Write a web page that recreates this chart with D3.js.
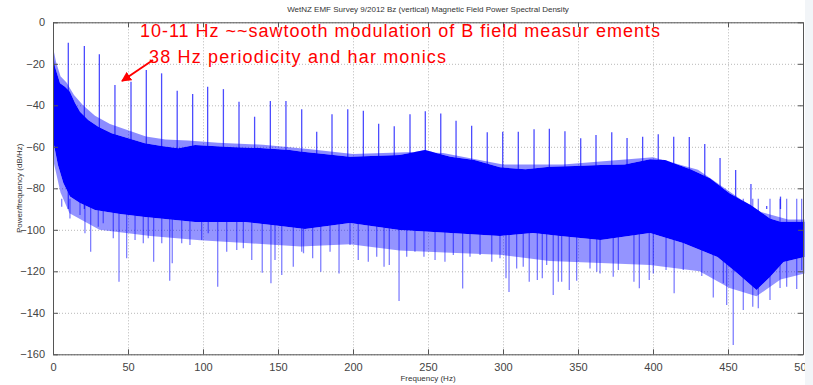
<!DOCTYPE html>
<html>
<head>
<meta charset="utf-8">
<script src="https://cdn.jsdelivr.net/npm/d3@7"></script>
<style>
  body { margin: 0; background: #fff; }
  svg { display: block; font-family: "Liberation Sans", Arial, sans-serif; }
</style>
</head>
<body>
<div id="psd"></div>
<script>
// tick values
const xTicks = [0, 50, 100, 150, 200, 250, 300, 350, 400, 450, 500];
const yTicks = [0, -20, -40, -60, -80, -100, -120, -140, -160];

// top edge of the dense noise band (Hz, dB/Hz)
const upperFreq = [0, 1.3, 4.7, 8, 11.3, 14.7, 18, 23.5, 30.2, 39.1, 50.2, 61.3, 72.5, 83.5, 94.7, 118, 138, 158, 165, 198, 231, 248, 265, 281, 298, 315, 331, 348, 365, 381, 398, 408, 425, 438, 451, 465, 478, 485, 501];
const upperDb   = [-13, -21.4, -29.4, -31, -33.5, -38.9, -43.1, -47.1, -50.3, -53.5, -55.9, -58.3, -59.6, -60.7, -59.1, -60.1, -60.6, -61.5, -62.3, -64.8, -64, -61.5, -64.8, -66.4, -69.9, -70.8, -69.6, -69.3, -68.8, -68.5, -66, -66.4, -70.8, -75.2, -82.4, -88, -94.5, -96.1, -96.1];

// light fuzz reaching above the dense band
const fuzzFreq = [0, 2, 5, 9, 14, 20, 28, 38, 50, 62, 75, 90, 110, 140, 170, 200, 240, 260, 300, 340, 400, 430, 450, 470, 490, 501];
const fuzzDb   = [-12, -19, -26, -29, -35, -40, -45, -49, -52, -55, -56.5, -57, -58, -59, -61, -63.5, -62.5, -63, -68.5, -68.5, -65, -71, -81, -91, -95, -95];

// bottom edge of the dense noise band
const lowerFreq = [0, 3.3, 6.9, 11.3, 18, 28, 44.7, 61.3, 94.7, 128, 150, 168, 198, 231, 265, 298, 320, 338, 365, 398, 420, 443, 456, 469, 478, 487, 501];
const lowerDb   = [-56.7, -68.8, -77.4, -84, -87.1, -90.5, -92.4, -93.8, -96.2, -96.2, -98.1, -99.6, -96.7, -100.1, -101.5, -103, -101.5, -103, -104.9, -101.5, -106.4, -113.1, -120.8, -129, -122.7, -115.5, -113.1];

// how far the lighter strands below the band usually reach
const fringeFreq = [0, 5, 11, 31, 65, 98, 131, 165, 198, 231, 265, 298, 331, 365, 398, 431, 451, 469, 485, 501];
const fringeDb   = [-66, -82, -92, -100, -103, -105, -106.5, -108, -107, -110, -111, -112, -115, -116, -117, -120, -128, -132, -124, -121];

// harmonic peaks (~10.35 Hz spacing)
const peakFreq = [10.2, 20.9, 30.9, 41.3, 52, 62.2, 72.4, 82.8, 93.1, 103.1, 113.6, 124, 134.4, 144.9, 155.3, 165.8, 175.8, 186, 196.5, 206.9, 217.1, 227.5, 238, 248.2, 258.5, 268.7, 279.1, 289.5, 299.8, 310.2, 320.7, 330.9, 341.3, 351.8, 362, 372.5, 382.7, 393.1, 403.5, 413.8, 424.2, 434.5, 444.7, 455.1, 465.3, 475.8, 485];
const peakDb   = [-9.8, -11.4, -15.4, -30.2, -28.6, -23, -24.6, -33, -34.6, -31, -32.2, -38.3, -45.5, -37.9, -37.9, -41.9, -52.7, -44.3, -41.9, -42.6, -48.9, -50.1, -44.3, -42.9, -43.9, -47.4, -49.8, -53, -52.7, -52.7, -51.6, -51.3, -52.5, -55.9, -54.3, -53, -55.8, -55.1, -54, -55.1, -55.3, -58.6, -65.4, -71.2, -77.9, -88.5, -84];

// deep downward excursions
const dipFreq = [5.8, 11.3, 18, 21.3, 25.1, 30.2, 33.5, 40.2, 44, 49.1, 54.7, 60.2, 63.5, 67.1, 72.5, 77.8, 79.5, 85.8, 91.3, 99.1, 103.5, 109.8, 115.8, 122.5, 126.9, 132.5, 139.5, 145.3, 148, 152.5, 160.2, 165.8, 167, 173.1, 178.5, 184.7, 190.7, 198, 203.5, 210.2, 215.8, 220.7, 224.2, 230.7, 235.8, 241.3, 247.3, 254.7, 261.3, 266.9, 273.1, 278, 284.7, 292.5, 298, 302, 304, 309.1, 313.5, 317.5, 322.9, 326.2, 329.1, 333.5, 336.9, 339.1, 344.2, 349.1, 358, 362.5, 364.7, 373.5, 376.9, 387.3, 390.9, 397.5, 400.2, 408.7, 414.1, 420.2, 432.5, 440.2, 446.9, 449.1, 453.5, 460.2, 466.5, 470.2, 478, 484.7, 489.1, 495.8, 499.1];
const dipDb   = [-88.9, -94.5, -92.9, -101.7, -110.6, -98.5, -96.9, -104.1, -125, -113.7, -104.9, -106.5, -104.1, -115.4, -106.5, -124.5, -116.1, -106.5, -107.3, -104.9, -101.7, -127.4, -110.6, -109.7, -108.9, -114.6, -120.7, -125.8, -114.6, -121.8, -117.8, -110.6, -111.3, -113.7, -120.2, -110.6, -121, -107.3, -114.6, -115.4, -113, -117.8, -117, -134.3, -113, -110.6, -113, -114.6, -115.4, -112.1, -128.3, -113, -112.1, -115.4, -113.7, -123.4, -130, -118.6, -117.8, -125, -124.2, -123.4, -117, -131.4, -125, -125, -129, -124.6, -118.6, -120.2, -121, -122.6, -119.4, -125, -128.2, -124.2, -121, -119.4, -130.6, -119.4, -122.3, -132.6, -125.8, -136.2, -155.5, -138.7, -137.1, -137.8, -133.8, -128, -127.4, -128.5, -119.4];

const W = 813, H = 385;
const svg = d3.select("#psd").append("svg").attr("width", W).attr("height", H);

const x = d3.scaleLinear().domain([0, 500]).range([53, 803]);
const y = d3.scaleLinear().domain([-160, 0]).range([354.3, 22.3]);

// grid
svg.append("g")
  .attr("transform", `translate(0,${y(-160)})`)
  .call(d3.axisBottom(x).tickValues(xTicks).tickSize(-(y(-160) - y(0))).tickFormat(""))
  .call(g => g.select(".domain").remove())
  .call(g => g.selectAll("line").attr("stroke", "#b8b8b8").attr("stroke-dasharray", "1,2"));
svg.append("g")
  .attr("transform", `translate(${x(0)},0)`)
  .call(d3.axisLeft(y).tickValues(yTicks).tickSize(-(x(500) - x(0))).tickFormat(""))
  .call(g => g.select(".domain").remove())
  .call(g => g.selectAll("line").attr("stroke", "#b8b8b8").attr("stroke-dasharray", "1,2"));

const plot = svg.append("g");
const pts = (fs, ds) => fs.map((f, i) => [f, ds[i]]);
const outline = d3.line().x(d => x(d[0])).y(d => y(d[1]));

// light strands under the band
plot.append("path")
  .attr("d", outline(pts(lowerFreq, lowerDb).concat(pts(fringeFreq, fringeDb).reverse())) + "Z")
  .attr("fill", "#0000ff").attr("fill-opacity", 0.42);

// light fuzz on top of the band
plot.append("path")
  .attr("d", outline(pts(fuzzFreq, fuzzDb).concat(pts(upperFreq, upperDb).reverse())) + "Z")
  .attr("fill", "#0000ff").attr("fill-opacity", 0.45);

// downward spikes
plot.selectAll("line.dip")
  .data(pts(dipFreq, dipDb))
  .join("line")
  .attr("class", "dip")
  .attr("x1", d => x(d[0])).attr("x2", d => x(d[0]))
  .attr("y1", d => y(-85)).attr("y2", d => y(d[1]))
  .attr("stroke", "#0000ff").attr("stroke-opacity", 0.5).attr("stroke-width", 1.3);

// harmonic spikes
plot.selectAll("line.peak")
  .data(pts(peakFreq, peakDb))
  .join("line")
  .attr("class", "peak")
  .attr("x1", d => x(d[0])).attr("x2", d => x(d[0]))
  .attr("y1", d => y(-90)).attr("y2", d => y(d[1]))
  .attr("stroke", "#0000ff").attr("stroke-opacity", 0.7).attr("stroke-width", 1.3);

// dense band
plot.append("path")
  .attr("d", outline(pts(upperFreq, upperDb).concat(pts(lowerFreq, lowerDb).reverse())) + "Z")
  .attr("fill", "#0000ff");

// axes
const axisCol = "#555";
function styleAxis(g) {
  g.select(".domain").attr("stroke", axisCol);
  g.selectAll(".tick line").attr("stroke", axisCol);
  g.selectAll(".tick text").attr("fill", "#444").attr("font-size", 11)
    .attr("font-family", "'Liberation Sans', Arial, sans-serif");
}
svg.append("g")
  .attr("transform", `translate(0,${y(-160)})`)
  .call(d3.axisBottom(x).tickValues(xTicks).tickSizeInner(-5).tickSizeOuter(0).tickPadding(9))
  .call(styleAxis);
svg.append("g")
  .attr("transform", `translate(0,${y(0)})`)
  .call(d3.axisTop(x).tickValues(xTicks).tickSizeInner(-5).tickSizeOuter(0).tickFormat(""))
  .call(styleAxis);
svg.append("g")
  .attr("transform", `translate(${x(0)},0)`)
  .call(d3.axisLeft(y).tickValues(yTicks).tickSizeInner(-5).tickSizeOuter(0).tickPadding(8))
  .call(styleAxis);
svg.append("g")
  .attr("transform", `translate(${x(500)},0)`)
  .call(d3.axisRight(y).tickValues(yTicks).tickSizeInner(-5).tickSizeOuter(0).tickFormat(""))
  .call(styleAxis);

// titles
svg.append("text")
  .attr("x", 428).attr("y", 12)
  .attr("text-anchor", "middle").attr("font-size", 8).attr("fill", "#333")
  .text("WetNZ EMF Survey 9/2012 Bz (vertical) Magnetic Field Power Spectral Density");
svg.append("text")
  .attr("x", 428).attr("y", 381)
  .attr("text-anchor", "middle").attr("font-size", 8).attr("fill", "#333")
  .text("Frequency (Hz)");
svg.append("text")
  .attr("transform", `translate(22,${y(-80)}) rotate(-90)`)
  .attr("text-anchor", "middle").attr("font-size", 8).attr("fill", "#333")
  .text("Power/frequency (dB/Hz)");

// annotation
svg.append("text")
  .attr("x", 140).attr("y", 37)
  .attr("font-size", 18).attr("fill", "#ff0000")
  .attr("textLength", 520).attr("lengthAdjust", "spacing")
  .text("10-11 Hz ~~sawtooth modulation of B field measur ements");
svg.append("text")
  .attr("x", 149).attr("y", 63)
  .attr("font-size", 18).attr("fill", "#ff0000")
  .attr("textLength", 297).attr("lengthAdjust", "spacing")
  .text("38 Hz periodicity and har monics");

svg.append("defs").append("marker")
  .attr("id", "head").attr("viewBox", "0 0 10 10")
  .attr("refX", 9).attr("refY", 5)
  .attr("markerWidth", 5).attr("markerHeight", 5)
  .attr("orient", "auto")
  .append("path").attr("d", "M0,0L10,5L0,10Z").attr("fill", "#ff0000");
svg.append("line")
  .attr("x1", 153).attr("y1", 60).attr("x2", 122).attr("y2", 81)
  .attr("stroke", "#ff0000").attr("stroke-width", 2)
  .attr("marker-end", "url(#head)");

// slide edge on the right
svg.append("rect")
  .attr("x", 805).attr("y", 0).attr("width", W - 805).attr("height", H)
  .attr("fill", "#f2f5f8");
</script>
</body>
</html>
